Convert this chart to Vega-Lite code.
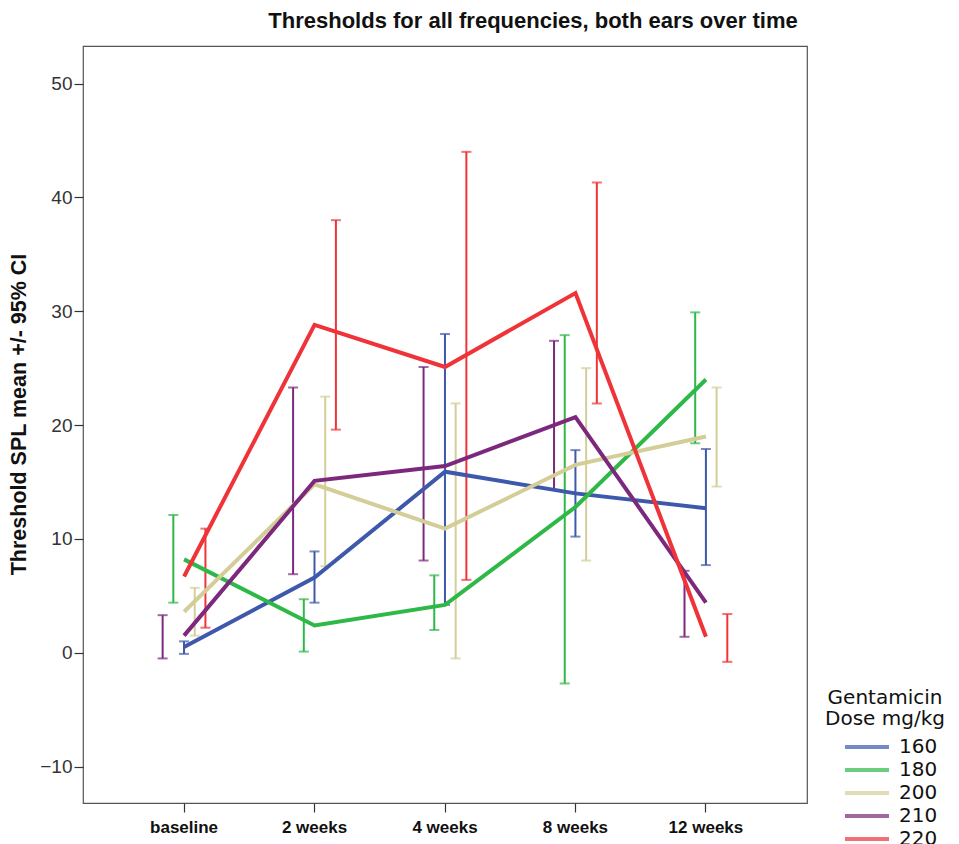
{
  "$schema": "https://vega.github.io/schema/vega-lite/v6.json",
  "autosize": "none",
  "width": 724,
  "height": 757,
  "padding": {"left": 83, "top": 46, "right": 152, "bottom": 41},
  "background": "white",
  "config": {
    "font": "Liberation Sans",
    "view": {"stroke": "#555555", "strokeWidth": 1.2}
  },
  "title": {
    "text": "Thresholds for all frequencies, both ears over time",
    "fontSize": 22,
    "fontWeight": "bold",
    "font": "Liberation Sans",
    "color": "#111111",
    "anchor": "middle",
    "dx": 88,
    "offset": 13
  },
  "data": {
    "values": [
      {"time": "baseline", "dose": "160", "mean": 0.5, "lo": -0.1, "hi": 1.0},
      {"time": "2 weeks", "dose": "160", "mean": 6.6, "lo": 4.4, "hi": 8.9},
      {"time": "4 weeks", "dose": "160", "mean": 15.9, "lo": 4.2, "hi": 28.0},
      {"time": "8 weeks", "dose": "160", "mean": 14.0, "lo": 10.2, "hi": 17.8},
      {"time": "12 weeks", "dose": "160", "mean": 12.7, "lo": 7.7, "hi": 17.9},
      {"time": "baseline", "dose": "180", "mean": 8.2, "lo": 4.4, "hi": 12.1},
      {"time": "2 weeks", "dose": "180", "mean": 2.4, "lo": 0.1, "hi": 4.7},
      {"time": "4 weeks", "dose": "180", "mean": 4.2, "lo": 2.0, "hi": 6.8},
      {"time": "8 weeks", "dose": "180", "mean": 12.8, "lo": -2.7, "hi": 27.9},
      {"time": "12 weeks", "dose": "180", "mean": 24.0, "lo": 18.4, "hi": 29.9},
      {"time": "baseline", "dose": "200", "mean": 3.6, "lo": 1.5, "hi": 5.7},
      {"time": "2 weeks", "dose": "200", "mean": 14.8, "lo": 7.6, "hi": 22.5},
      {"time": "4 weeks", "dose": "200", "mean": 10.9, "lo": -0.5, "hi": 21.9},
      {"time": "8 weeks", "dose": "200", "mean": 16.5, "lo": 8.1, "hi": 25.0},
      {"time": "12 weeks", "dose": "200", "mean": 19.0, "lo": 14.6, "hi": 23.3},
      {"time": "baseline", "dose": "210", "mean": 1.5, "lo": -0.5, "hi": 3.3},
      {"time": "2 weeks", "dose": "210", "mean": 15.1, "lo": 6.9, "hi": 23.3},
      {"time": "4 weeks", "dose": "210", "mean": 16.4, "lo": 8.1, "hi": 25.1},
      {"time": "8 weeks", "dose": "210", "mean": 20.7, "lo": 14.3, "hi": 27.4},
      {"time": "12 weeks", "dose": "210", "mean": 4.4, "lo": 1.4, "hi": 7.2},
      {"time": "baseline", "dose": "220", "mean": 6.7, "lo": 2.2, "hi": 10.9},
      {"time": "2 weeks", "dose": "220", "mean": 28.8, "lo": 19.6, "hi": 38.0},
      {"time": "4 weeks", "dose": "220", "mean": 25.1, "lo": 6.4, "hi": 44.0},
      {"time": "8 weeks", "dose": "220", "mean": 31.6, "lo": 21.9, "hi": 41.3},
      {"time": "12 weeks", "dose": "220", "mean": 1.4, "lo": -0.8, "hi": 3.4}
    ]
  },
  "encoding": {
    "x": {
      "field": "time",
      "type": "nominal",
      "sort": ["baseline", "2 weeks", "4 weeks", "8 weeks", "12 weeks"],
      "scale": {"type": "band", "domain": ["baseline", "2 weeks", "4 weeks", "8 weeks", "12 weeks"], "paddingInner": 0, "paddingOuter": 0.2746},
      "axis": {
        "title": null,
        "labelAngle": 0,
        "labelFontSize": 17,
        "labelFontWeight": "bold",
        "labelColor": "#111111",
        "labelPadding": 7,
        "tickSize": 9,
        "tickColor": "#333333",
        "tickWidth": 1.2,
        "domain": false
      }
    },
    "color": {
      "field": "dose",
      "type": "nominal",
      "scale": {
        "domain": ["160", "180", "200", "210", "220"],
        "range": ["#3E58AC", "#2EB848", "#D3CE97", "#7C287D", "#EF3338"]
      },
      "legend": {
        "title": ["Gentamicin", "Dose mg/kg"],
        "orient": "none",
        "legendX": 742,
        "legendY": 642,
        "padding": 0,
        "titleFont": "DejaVu Sans",
        "titleFontSize": 20,
        "titleFontWeight": "normal",
        "titleColor": "#111111",
        "titleAlign": "center",
        "titleAnchor": "middle",
        "titleLineHeight": 21,
        "titlePadding": 5,
        "labelFont": "DejaVu Sans",
        "labelFontSize": 20,
        "labelColor": "#111111",
        "symbolType": "M-2,0H2",
        "symbolStrokeWidth": 4,
        "symbolSize": 484,
        "symbolOffset": 22,
        "rowPadding": -0.7,
        "labelOffset": 19
      }
    }
  },
  "layer": [
    {
      "mark": {"type": "rule", "strokeWidth": 2},
      "encoding": {
        "xOffset": {"field": "dose", "type": "nominal", "sort": ["210", "180", "160", "200", "220"], "scale": {"domain": ["210", "180", "160", "200", "220"], "paddingInner": 0, "paddingOuter": 0, "range": [38.45, 91.95]}},
        "y": {"field": "lo", "type": "quantitative"},
        "y2": {"field": "hi"}
      }
    },
    {
      "mark": {"type": "tick", "size": 10, "thickness": 2, "orient": "horizontal"},
      "encoding": {
        "xOffset": {"field": "dose", "type": "nominal", "sort": ["210", "180", "160", "200", "220"], "scale": {"domain": ["210", "180", "160", "200", "220"], "paddingInner": 0, "paddingOuter": 0, "range": [38.45, 91.95]}},
        "y": {"field": "lo", "type": "quantitative"}
      }
    },
    {
      "mark": {"type": "tick", "size": 10, "thickness": 2, "orient": "horizontal"},
      "encoding": {
        "xOffset": {"field": "dose", "type": "nominal", "sort": ["210", "180", "160", "200", "220"], "scale": {"domain": ["210", "180", "160", "200", "220"], "paddingInner": 0, "paddingOuter": 0, "range": [38.45, 91.95]}},
        "y": {"field": "hi", "type": "quantitative"}
      }
    },
    {
      "mark": {"type": "line", "strokeWidth": 4},
      "encoding": {
        "y": {
          "field": "mean",
          "type": "quantitative",
          "scale": {"domain": [-13.2, 53.3], "nice": false, "zero": false},
          "axis": {
            "title": "Threshold SPL mean +/- 95% CI",
            "titleFontSize": 21.5,
            "titleFontWeight": "bold",
            "titleColor": "#111111",
            "titleX": -53,
            "titleY": 368,
            "values": [-10, 0, 10, 20, 30, 40, 50],
            "labelFontSize": 19,
            "labelColor": "#333333",
            "labelPadding": 2,
            "tickSize": 9,
            "tickColor": "#333333",
            "tickWidth": 1.2,
            "grid": false,
            "domain": false
          }
        }
      }
    }
  ]
}
